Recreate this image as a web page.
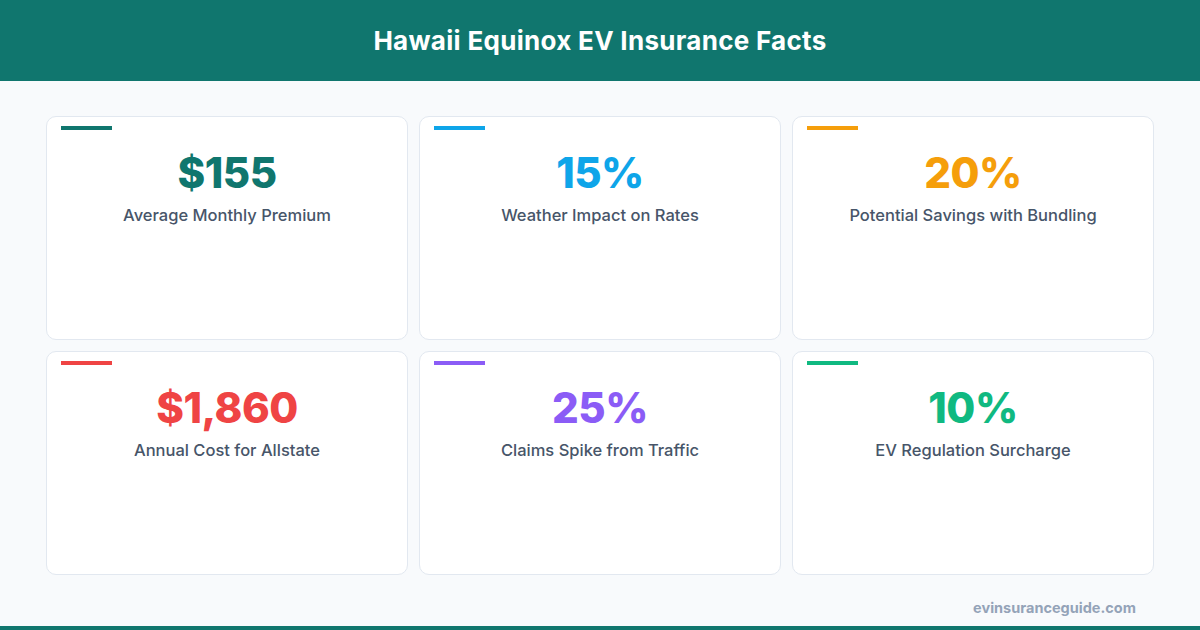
<!DOCTYPE html>
<html><head><meta charset="utf-8">
<script src="https://cdn.jsdelivr.net/npm/chart.js@4"></script>
<style>
html,body{margin:0;padding:0;width:1200px;height:630px;overflow:hidden;background:#f8fafc;font-family:Inter,"Open Sans",sans-serif;}
#hdr{position:absolute;left:0;top:0;width:1200px;height:81px;background:#10766e;color:#fff;font-weight:700;font-size:26px;text-align:center;line-height:81px;letter-spacing:0.3px}
.card{position:absolute;width:362px;height:224px;background:#fff;border:1px solid #e2e8f0;border-radius:10px;box-sizing:border-box}
.bar{position:absolute;left:14px;top:9px;width:51px;height:4px}
.val{position:absolute;left:0;width:100%;top:30px;text-align:center;font-weight:800;font-size:42px;letter-spacing:-0.5px}
.lab{position:absolute;left:0;width:100%;top:88px;text-align:center;font-weight:500;font-size:16.5px;color:#475569}
#foot{position:absolute;right:64px;top:599px;color:#94a3b8;font-weight:700;font-size:14.5px}
#bot{position:absolute;left:0;top:626px;width:1200px;height:4px;background:#10766e}
</style></head><body>
<div id="hdr"></div>
<div id="cards"></div>
<div id="foot"></div>
<div id="bot"></div>
<script>
const title = "Hawaii Equinox EV Insurance Facts";
const values = ["$155","15%","20%","$1,860","25%","10%"];
const labels = ["Average Monthly Premium","Weather Impact on Rates","Potential Savings with Bundling","Annual Cost for Allstate","Claims Spike from Traffic","EV Regulation Surcharge"];
const colors = ["#10766e","#0ea5e9","#f59e0b","#ef4444","#8b5cf6","#10b981"];
const source = "evinsuranceguide.com";
document.getElementById('hdr').textContent = title;
document.getElementById('foot').textContent = source;
const wrap = document.getElementById('cards');
values.forEach((v,i)=>{
  const c=document.createElement('div');c.className='card';
  c.style.left=(46+(i%3)*373)+'px';c.style.top=(116+Math.floor(i/3)*235)+'px';
  c.innerHTML=`<div class="bar" style="background:${colors[i]}"></div><div class="val" style="color:${colors[i]}">${v}</div><div class="lab">${labels[i]}</div>`;
  wrap.appendChild(c);
});
</script>
</body></html>
